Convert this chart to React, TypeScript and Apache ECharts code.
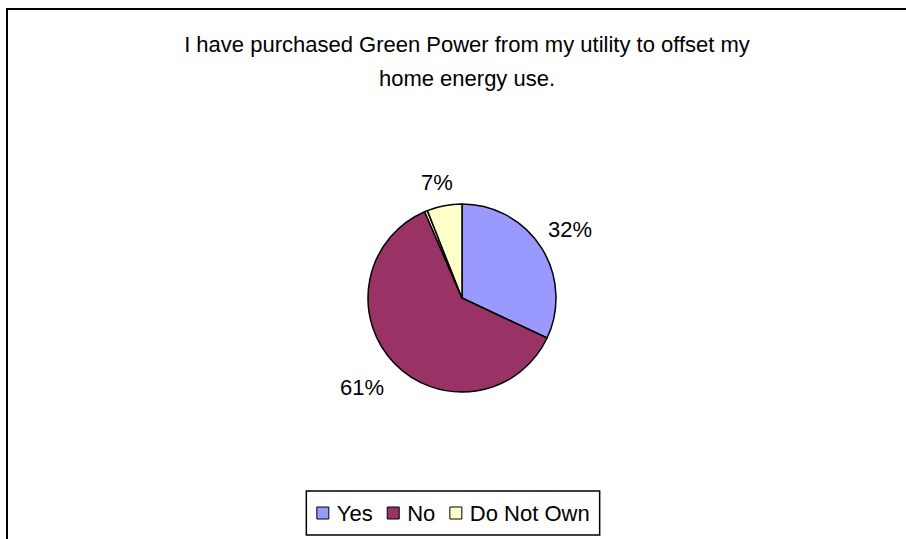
import React, { useEffect, useRef } from "react";
import * as echarts from "echarts";

const titleLines = [
  "I have purchased Green Power from my utility to offset my",
  "home energy use.",
];
const categories = ["Yes", "No", "No Answer", "Do Not Own"];
const values = [32, 61.5, 0.5, 6];
const pctLabels = ["32%", "61%", "", "7%"];
const colors = ["#9999FF", "#993366", "#FFFFCC", "#FFFFCC"];
const legendNames = ["Yes", "No", "Do Not Own"];

// layout-only nudges for the percentage labels
const labelNudge: [number, number][] = [[0, 0], [-8, 0], [0, 0], [-1, 10]];

const FONT = "'Liberation Sans', Arial, sans-serif";
const FS = 22;

export default function App() {
  const ref = useRef<HTMLDivElement>(null);
  useEffect(() => {
    if (!ref.current) return;
    const chart = echarts.init(ref.current, undefined, { renderer: "svg" });
    const data = categories.map((name, i) => ({
      name,
      value: values[i],
      itemStyle: { color: colors[i] },
    }));
    chart.setOption({
      animation: false,
      backgroundColor: "#fff",
      textStyle: { fontFamily: FONT },
      title: {
        text: titleLines.join("\n"),
        left: 462,
        top: 22,
        textAlign: "center",
        textStyle: {
          fontFamily: FONT,
          fontSize: FS,
          fontWeight: "normal",
          color: "#000",
          lineHeight: 34,
        },
      },
      legend: {
        data: legendNames,
        left: "center",
        top: 491,
        orient: "horizontal",
        icon: "rect",
        itemWidth: 12,
        itemHeight: 12,
        itemGap: 14,
        padding: [11, 10, 11, 10],
        borderColor: "#000",
        borderWidth: 1.5,
        itemStyle: { borderColor: "#000", borderWidth: 1 },
        textStyle: { fontFamily: FONT, fontSize: FS, color: "#000", padding: [0, 0, 0, 3] },
        selectedMode: false,
      },
      graphic: [
        {
          type: "rect",
          shape: { x: 7, y: 9, width: 980, height: 620 },
          style: { fill: "none", stroke: "#000", lineWidth: 2 },
          silent: true,
        },
      ],
      series: [
        {
          type: "pie",
          center: [462, 298],
          radius: [0, 94],
          startAngle: 90,
          clockwise: true,
          data,
          label: { show: false },
          labelLine: { show: false },
          itemStyle: { borderColor: "#000", borderWidth: 1.5 },
          emphasis: { disabled: true },
          silent: true,
        },
        {
          type: "pie",
          center: [462, 298],
          radius: [104, 146],
          startAngle: 90,
          clockwise: true,
          data: categories.map((name, i) => ({
            name: name + " ",
            value: values[i],
            itemStyle: { color: "transparent", borderWidth: 0 },
            label: { offset: labelNudge[i] },
          })),
          label: {
            show: true,
            position: "inside",
            formatter: (p: any) => pctLabels[p.dataIndex],
            fontFamily: FONT,
            fontSize: FS,
            color: "#000",
          },
          labelLine: { show: false },
          emphasis: { disabled: true },
          silent: true,
        },
      ],
    });
    return () => chart.dispose();
  }, []);
  return (
    <div
      ref={ref}
      style={{ position: "fixed", left: 0, top: 0, width: 906, height: 539 }}
    />
  );
}
